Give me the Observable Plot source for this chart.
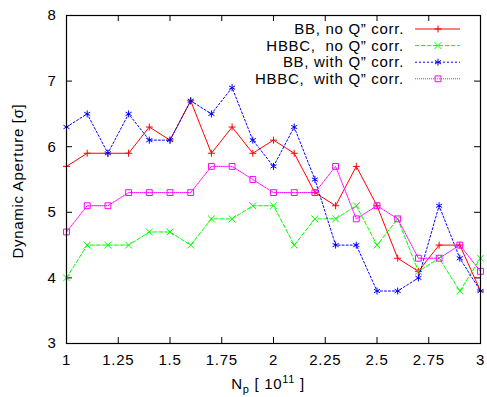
<!DOCTYPE html>
<html><head><meta charset="utf-8">
<script src="https://cdn.jsdelivr.net/npm/d3@7"></script>
<script src="https://cdn.jsdelivr.net/npm/@observablehq/plot@0.6"></script>
<style>
body{margin:0;background:#fff}
svg{font-family:"Liberation Sans",Arial,Helvetica,sans-serif}
</style>
</head><body><div id="chart"></div>
<script>
// ---- data ----
const np = [1.0,1.1,1.2,1.3,1.4,1.5,1.6,1.7,1.8,1.9,2.0,2.1,2.2,2.3,2.4,2.5,2.6,2.7,2.8,2.9,3.0];
const bbNoQ    = [5.7,5.9,5.9,5.9,6.3,6.1,6.7,5.9,6.3,5.9,6.1,5.9,5.3,5.1,5.7,5.1,4.3,4.1,4.5,4.5,3.8];
const hbbcNoQ  = [4.0,4.5,4.5,4.5,4.7,4.7,4.5,4.9,4.9,5.1,5.1,4.5,4.9,4.9,5.1,4.5,4.9,4.1,4.3,3.8,4.3];
const bbWithQ  = [6.3,6.5,5.9,6.5,6.1,6.1,6.7,6.5,6.9,6.1,5.7,6.3,5.5,4.5,4.5,3.8,3.8,4.0,5.1,4.3,3.8];
const hbbcWithQ= [4.7,5.1,5.1,5.3,5.3,5.3,5.3,5.7,5.7,5.5,5.3,5.3,5.3,5.7,4.9,5.1,4.9,4.3,4.3,4.5,4.1];
const seriesNames = ["BB, no Q\u201D corr.", "HBBC,  no Q\u201D corr.", "BB, with Q\u201D corr.", "HBBC,  with Q\u201D corr."];
const xTicks = [1,1.25,1.5,1.75,2,2.25,2.5,2.75,3];
const yTicks = [3,4,5,6,7,8];

// ---- styles ----
const seriesValues = [bbNoQ, hbbcNoQ, bbWithQ, hbbcWithQ];
const colors = ["#ff0000","#00ff00","#0000ff","#ff00ff"];
const dashes = [null, "4,2", "2,2", "1,1"];
const symbols = ["plus","times","asterisk","square"];
const d3symbols = [d3.symbolPlus, d3.symbolTimes, d3.symbolAsterisk, d3.symbolSquare];
const radii = [2.4, 3.2, 3.3, 3.3];

const W = 487, H = 397, mL = 66, mR = 7, mT = 15, mB = 54;
const fw = W - mL - mR, fh = H - mT - mB, tk = 6;
const font = "'Liberation Sans', Arial, Helvetica, sans-serif";

const marks = [];
seriesValues.forEach((vals, i) => {
  const rows = np.map((x, j) => ({x, y: vals[j]}));
  marks.push(Plot.line(rows, {x: "x", y: "y", stroke: colors[i], strokeWidth: 1, strokeDasharray: dashes[i]}));
  marks.push(Plot.dot(rows, {x: "x", y: "y", symbol: symbols[i], r: radii[i], stroke: colors[i], fill: "none", strokeWidth: 1}));
});

const plot = Plot.plot({
  width: W, height: H,
  marginLeft: mL, marginRight: mR, marginTop: mT, marginBottom: mB,
  style: {fontSize: "15px", fontFamily: font, background: "#fff", color: "#000", letterSpacing: "0.7px"},
  x: {domain: [1, 3]},
  y: {domain: [3, 8]},
  marks: [
    Plot.ruleX(xTicks, {x: d => d, insetTop: fh - tk, stroke: "#000"}),
    Plot.ruleX(xTicks, {x: d => d, insetBottom: fh - tk, stroke: "#000"}),
    Plot.ruleY(yTicks, {y: d => d, insetRight: fw - tk, stroke: "#000"}),
    Plot.ruleY(yTicks, {y: d => d, insetLeft: fw - tk, stroke: "#000"}),
    Plot.axisX({ticks: xTicks, tickSize: 0, tickPadding: 11, tickFormat: d => String(d), label: null}),
    Plot.axisY({ticks: yTicks, tickSize: 0, tickPadding: 10, tickFormat: d => String(d), label: null}),
    ...marks,
    Plot.frame({stroke: "#000", strokeWidth: 1.2})
  ]
});
document.getElementById("chart").appendChild(plot);

// ---- axis titles and legend ----
const svg = d3.select(plot);
const xl = svg.append("text").attr("x", 268).attr("y", 389).attr("text-anchor", "middle")
  .attr("font-size", 15).attr("font-family", font).attr("fill", "#000");
xl.append("tspan").text("N");
xl.append("tspan").attr("dy", 4).attr("font-size", 11).text("p");
xl.append("tspan").attr("dy", -4).text(" [ 10");
xl.append("tspan").attr("dy", -6).attr("font-size", 11).text("11");
xl.append("tspan").attr("dy", 6).text(" ]");

svg.append("text").attr("transform", "translate(18,181) rotate(-90)")
  .attr("text-anchor", "middle").attr("dy", "0.35em")
  .attr("font-size", 15).attr("font-family", font).attr("fill", "#000")
  .text("Dynamic Aperture [\u03C3]");

const lg = svg.append("g");
seriesNames.forEach((name, i) => {
  const y = 29 + i * 16.6;
  lg.append("text").attr("x", 404).attr("y", y).attr("dy", "0.35em")
    .attr("text-anchor", "end").attr("font-size", 15).attr("font-family", font)
    .attr("fill", "#000").attr("xml:space", "preserve").style("white-space", "pre").text(name);
  lg.append("line").attr("x1", 415).attr("x2", 460).attr("y1", y).attr("y2", y)
    .attr("stroke", colors[i]).attr("stroke-width", 1)
    .attr("stroke-dasharray", dashes[i]);
  lg.append("path").attr("transform", `translate(438,${y})`)
    .attr("d", d3.symbol(d3symbols[i], radii[i] * radii[i] * Math.PI)())
    .attr("fill", "none").attr("stroke", colors[i]).attr("stroke-width", 1);
});
</script>
</body></html>
